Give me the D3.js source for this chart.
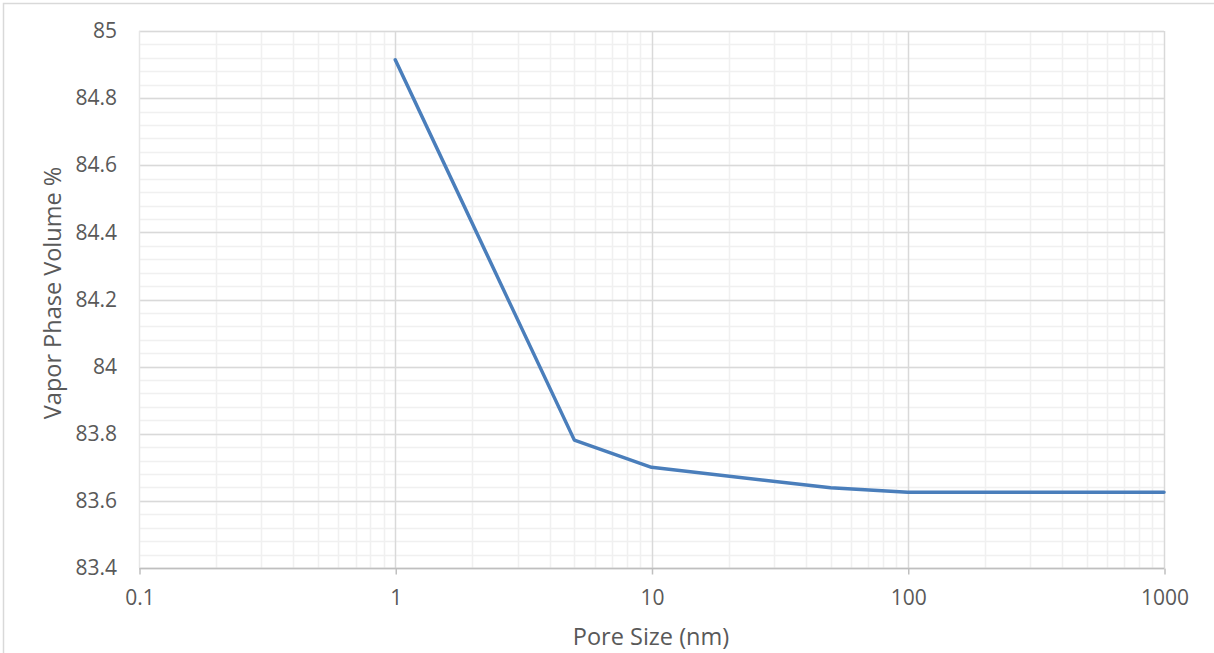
<!DOCTYPE html>
<html>
<head>
<meta charset="utf-8">
<script src="https://cdn.jsdelivr.net/npm/d3@7/dist/d3.min.js"></script>
<style>
  html, body { margin: 0; padding: 0; background: #fff; }
  svg { display: block; font-family: "Open Sans", "Liberation Sans", sans-serif; }
</style>
</head>
<body>
<svg id="chart" width="1214" height="653"></svg>
<script>
// Pore size (nm) and the corresponding vapor phase volume (%)
const poreSize = [1, 5, 10, 50, 100, 1000];
const vaporVolume = [84.914, 83.781, 83.700, 83.639, 83.626, 83.626];

const xTicks = [0.1, 1, 10, 100, 1000];
const xTickLabels = ["0.1", "1", "10", "100", "1000"];
const yTicks = [83.4, 83.6, 83.8, 84, 84.2, 84.4, 84.6, 84.8, 85];
const yTickLabels = ["83.4", "83.6", "83.8", "84", "84.2", "84.4", "84.6", "84.8", "85"];

const xTitle = "Pore Size (nm)";
const yTitle = "Vapor Phase Volume %";

const FONT = "'Open Sans', 'Liberation Sans', sans-serif";
const svg = d3.select("#chart");
const W = 1214, H = 653;
const m = { left: 139, right: 1164, top: 31, bottom: 568 };

// chart frame
svg.append("rect")
  .attr("x", 3.5).attr("y", 3.5)
  .attr("width", W + 10).attr("height", H + 10)
  .attr("fill", "#fff").attr("stroke", "#d9d9d9").attr("stroke-width", 1.5);

const x = d3.scaleLog().domain([0.1, 1000]).range([m.left, m.right]);
const y = d3.scaleLinear().domain([83.4, 85]).range([m.bottom, m.top]);

const g = svg.append("g");

// minor horizontal gridlines every 0.04
const yMinor = d3.range(0, 41).map(i => 83.4 + i * 0.04);
g.append("g").selectAll("line").data(yMinor).join("line")
  .attr("x1", m.left).attr("x2", m.right)
  .attr("y1", d => Math.round(y(d)) + 0.5).attr("y2", d => Math.round(y(d)) + 0.5)
  .attr("stroke", "#f0f0f0").attr("stroke-width", 1.5);

// minor vertical gridlines 2..9 of each decade
const xMinor = [];
[0.1, 1, 10, 100].forEach(dec => { for (let k = 2; k <= 9; k++) xMinor.push(dec * k); });
g.append("g").selectAll("line").data(xMinor).join("line")
  .attr("x1", d => Math.round(x(d)) + 0.5).attr("x2", d => Math.round(x(d)) + 0.5)
  .attr("y1", m.top).attr("y2", m.bottom)
  .attr("stroke", "#f0f0f0").attr("stroke-width", 1.5);

// major horizontal gridlines
g.append("g").selectAll("line").data(yTicks).join("line")
  .attr("x1", m.left).attr("x2", m.right)
  .attr("y1", d => Math.round(y(d)) + 0.5).attr("y2", d => Math.round(y(d)) + 0.5)
  .attr("stroke", "#d9d9d9").attr("stroke-width", 1.5);

// major vertical gridlines
g.append("g").selectAll("line").data(xTicks.slice(1)).join("line")
  .attr("x1", d => Math.round(x(d)) + 0.5).attr("x2", d => Math.round(x(d)) + 0.5)
  .attr("y1", m.top).attr("y2", m.bottom)
  .attr("stroke", "#d9d9d9").attr("stroke-width", 1.5);

// left edge of plot
g.append("line")
  .attr("x1", m.left + 0.5).attr("x2", m.left + 0.5)
  .attr("y1", m.top).attr("y2", m.bottom)
  .attr("stroke", "#e6e6e6").attr("stroke-width", 1.5);

// x axis with tick marks
const xAxis = d3.axisBottom(x)
  .tickValues(xTicks)
  .tickFormat((d, i) => xTickLabels[i])
  .tickSize(6)
  .tickPadding(16);
const xa = svg.append("g").attr("transform", `translate(0.5,${m.bottom + 0.5})`).call(xAxis);
xa.select(".domain").attr("stroke", "#bfbfbf").attr("stroke-width", 1.5).attr("d", `M${m.left},0H${m.right}`);
xa.selectAll(".tick line").attr("stroke", "#bfbfbf").attr("stroke-width", 1.5);
xa.selectAll(".tick text").attr("fill", "#595959").attr("font-size", 21).style("font-family", FONT);

// y axis labels
const yAxis = d3.axisLeft(y)
  .tickValues(yTicks)
  .tickFormat((d, i) => yTickLabels[i])
  .tickSize(0)
  .tickPadding(22);
const ya = svg.append("g").attr("transform", `translate(${m.left},0)`).call(yAxis);
ya.select(".domain").remove();
ya.selectAll(".tick text").attr("fill", "#595959").attr("font-size", 21).style("font-family", FONT);

// data line
const line = d3.line().x((d, i) => x(poreSize[i])).y(d => y(d));
svg.append("path")
  .datum(vaporVolume)
  .attr("d", line)
  .attr("fill", "none")
  .attr("stroke", "#4a7ebb")
  .attr("stroke-width", 3.5)
  .attr("stroke-linejoin", "round")
  .attr("stroke-linecap", "round");

// axis titles
svg.append("text")
  .attr("x", 651).attr("y", 645)
  .attr("text-anchor", "middle")
  .attr("fill", "#595959").attr("font-size", 23.5).style("font-family", FONT)
  .text(xTitle);

svg.append("text")
  .attr("transform", `translate(61,293) rotate(-90)`)
  .attr("text-anchor", "middle")
  .attr("fill", "#595959").attr("font-size", 23.5).style("font-family", FONT)
  .text(yTitle);
</script>
</body>
</html>
